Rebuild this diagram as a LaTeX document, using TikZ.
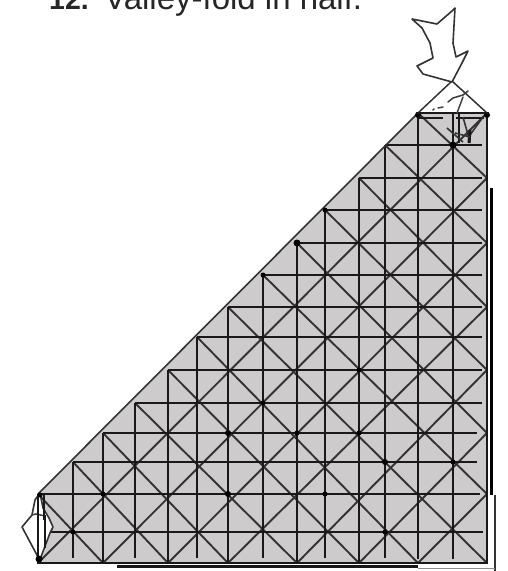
\documentclass[tikz,border=0pt]{standalone}
\usepackage{fontspec}
\setmainfont{Liberation Sans}
\definecolor{paper}{RGB}{205,203,203}
\tikzset{
  grid line/.style={line width=2.4pt,color=black!90},
  diag line/.style={line width=1.9pt,color=black!80},
  fold line/.style={line width=1.6pt,color=black!80,line join=round},
  dash line/.style={line width=1.5pt,color=black!75,line cap=round}
}
\begin{document}
\begin{tikzpicture}[x=1pt,y=-1pt]
\useasboundingbox (0,0) rectangle (507,571);
\begin{scope}
\clip (0,0) rectangle (507,571);
\node[anchor=base west,inner sep=0pt,font=\fontsize{28.5pt}{28.5pt}\selectfont\bfseries,color=black!85] (num) at (49,9.5) {12.};
\node[anchor=base west,inner sep=0pt,font=\fontsize{33pt}{33pt}\selectfont,color=black!85] (title) at (104,9.5) {Valley-fold in half.};
\end{scope}
\def\xs{{38,73,103,135,168,197,228,263,297,325,359,385,418,453,487}}
\def\ys{{113,145,178,210,243,275,307,337,370,403,433,462,494,532,563}}
\fill[paper] (418,113) -- (487,113) -- (487,563) -- (38,563) -- (38,494) -- cycle;
% up-right diagonals
\foreach \s in {14,16,...,26}{
  \pgfmathsetmacro\ax{\xs[\s-14]}\pgfmathsetmacro\ay{\ys[14]}
  \pgfmathsetmacro\bx{\xs[14]}\pgfmathsetmacro\by{\ys[\s-14]}
  \draw[diag line] (\ax,\ay) -- (\bx,\by);
}
% down-right diagonals
\foreach \d in {-12,-10,...,12}{
  \pgfmathsetmacro\si{int((12+\d)/2)}\pgfmathsetmacro\sj{int((12-\d)/2)}
  \pgfmathsetmacro\ex{int(\d>=0?14:14+\d)}\pgfmathsetmacro\ey{int(\d>=0?14-\d:14)}
  \pgfmathsetmacro\ax{\xs[\si]}\pgfmathsetmacro\ay{\ys[\sj]}
  \pgfmathsetmacro\bx{\xs[\ex]}\pgfmathsetmacro\by{\ys[\ey]}
  \draw[diag line] (\ax,\ay) -- (\bx,\by);
}
% horizontal lines
\foreach \j in {1,...,13}{
  \pgfmathsetmacro\si{int(max(12-\j,0))}
  \pgfmathsetmacro\ax{\xs[\si]}\pgfmathsetmacro\ay{\ys[\j]}
  \pgfmathsetmacro\ex{\j<10?482:(\j<12?477:(\j==12?480:483))}
  \draw[grid line] (\ax,\ay) -- (\ex,\ay);
}
% vertical lines
\foreach \i/\e in {1/558,2/563,3/558,4/563,5/558,6/563,7/558,8/563,9/558,10/563,11/558,12/559,13/559}{
  \pgfmathsetmacro\sj{int(max(12-\i,0))}
  \pgfmathsetmacro\ax{\xs[\i]}\pgfmathsetmacro\ay{\ys[\sj]}
  \draw[grid line] (\ax,\ay) -- (\ax,\e);
}
% outline
\draw[diag line,line width=1.6pt] (418,113) -- (38,494);
\draw[grid line,line width=2.2pt] (418,113) -- (487,113) -- (487,563) -- (38,563) -- (38,494);
\draw[grid line] (38,494) -- (38,563);
% offset edges of the folded layers
\draw[line width=3pt,color=black] (491,188) -- (491,495);
\draw[line width=2.2pt,color=black!80] (495,495) -- (495,571);
\draw[line width=3.4pt,color=black!90] (117,566.5) -- (418,566.5);
\draw[line width=1pt,color=black!45] (418,568) -- (495,568);
% knots on the lattice
\foreach \x/\y/\r in {297/243/7pt,325/210/5pt,453/145/7pt,418/115/6pt,487/115/6pt,359/370/5pt,263/275/5pt,228/433/6pt,228/494/6pt,103/494/5pt,73/532/5pt,359/433/5pt,385/462/6pt,453/462/5pt,385/532/5pt,325/494/5pt,297/433/5pt,263/403/5pt}{
  \fill[black] (\x,\y) circle[radius=\r/2];
}
% top fold: second layer lines
\draw[grid line] (418,118) -- (443,118);
\draw[grid line] (456,118) -- (484,118);
\draw[grid line,line width=1.8pt] (459,113) -- (459,143);
\draw[fold line] (463,117) -- (470,142);
\draw[fold line] (483,117) -- (470,135);
\draw[line width=3pt,color=black!90] (470,130) -- (469,143);
\draw[fold line] (447,128) -- (463,142);
\draw[fold line] (455,133) -- (470,137);
% top triangular flap
\fill[white] (418,113) -- (452,81) -- (487,113) -- cycle;
\draw[diag line,line width=1.5pt] (418,113) -- (452,81) -- (487,113);
\draw[grid line] (416,113) -- (489,113);
\draw[dash line] (448,102) -- (453,98) -- (463,95);
\draw[dash line] (463,95) -- (468,91);
\draw[dash line] (463,97) -- (457,113);
\draw[dash line] (433,110) -- (434,109);
\draw[dash line] (438,108) -- (443,107);
% valley-fold arrow at the top
\draw[fold line,fill=white] (452,82) -- (423,74) -- (417,66) -- (433,58) -- (430,43) -- (422,28) -- (412,19) -- (437,24) -- (452,11) -- (455,8) -- (453,43) -- (456,57) -- (468,51) -- (462,63) -- cycle;
% folded corner at the lower left
\draw[fold line,fill=white] (40,493) -- (35,500) -- (32,515) -- (22,527) -- (38,557) -- (39,562) -- (50,533) -- (53,527) -- (49,518) -- (43,508) -- cycle;
\draw[dash line] (32,515) -- (36,514) -- (45,516);
\draw[grid line,line width=1.8pt] (38,494) -- (38,563);
\draw[grid line,line width=1.5pt] (44,495) -- (44,520);
\draw[grid line,line width=1.5pt] (45,515) -- (45,548);
\fill[black] (39,559) circle[radius=3.5];
\fill[black] (40,495) circle[radius=2.5];
\end{tikzpicture}
\end{document}
